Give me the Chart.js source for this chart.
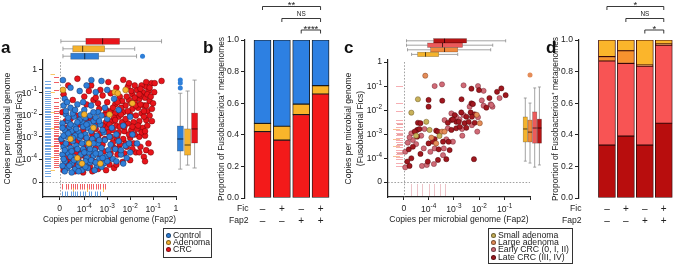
<!DOCTYPE html>
<html><head><meta charset="utf-8">
<script src="https://cdn.jsdelivr.net/npm/chart.js@4.4.1/dist/chart.umd.min.js"></script>
<style>
html,body{margin:0;padding:0;background:#fff}
body{width:675px;height:266px;position:relative;overflow:hidden;font-family:"Liberation Sans",Arial,Helvetica,sans-serif;color:#222}
canvas{position:absolute;left:0;top:0}
.pl{position:absolute;font-weight:bold;font-size:17px;line-height:17px;color:#111}
.leg{position:absolute;border:1.3px solid #333;font-size:8.7px;line-height:7.2px;padding:3px 2px 0 2px;box-sizing:border-box;white-space:nowrap;color:#222}
.leg div{height:7.2px}
.leg i{display:inline-block;width:5px;height:5px;border-radius:50%;margin-right:2px;vertical-align:0px;box-sizing:border-box;border:0.6px solid rgba(0,0,0,.45)}
</style></head><body>
<canvas id="cA" width="675" height="266"></canvas>
<canvas id="cB" width="675" height="266"></canvas>
<canvas id="cC" width="675" height="266"></canvas>
<canvas id="cD" width="675" height="266"></canvas>
<div class="pl" style="left:1px;top:39px">a</div>
<div class="pl" style="left:203px;top:39px">b</div>
<div class="pl" style="left:344px;top:39px">c</div>
<div class="pl" style="left:546px;top:39px">d</div>
<div class="leg" style="left:163px;top:228px;width:49px;height:30px">
  <div><i style="background:#2f7fd8"></i>Control</div>
  <div><i style="background:#f5b22e"></i>Adenoma</div>
  <div><i style="background:#e8141b"></i>CRC</div>
</div>
<div class="leg" style="left:488px;top:228px;width:85px;height:36px">
  <div><i style="background:#c8b15a"></i>Small adenoma</div>
  <div><i style="background:#e48c58"></i>Large adenoma</div>
  <div><i style="background:#d06a76"></i>Early CRC (0, I, II)</div>
  <div><i style="background:#a0171f"></i>Late CRC (III, IV)</div>
</div>
<script>
// ---------------- DATA (log10 copies per microbial genome) ----------------
const logTickValues = [-4, -3, -2, -1, 0];
const logTickText = ['10^-4', '10^-3', '10^-2', '10^-1', '1'];
const zeroText = '0';

// Panel a scatter: [log10 Fap2, log10 Fics]
const aControl = [[-4.93,-0.46],[-3.69,-0.46],[-3.25,-0.5],[-4.6,-0.8],[-4.2,-0.95],[-3.9,-0.7],[-3.5,-1.0],[-4.85,-1.3],[-3.0,-0.9],[-2.7,-1.3],
[-4.9,-1.6],[-4.6,-1.7],[-4.3,-1.55],[-4.0,-1.8],[-3.7,-1.6],[-3.4,-1.9],[-3.1,-1.7],[-4.8,-2.0],[-4.45,-2.1],[-4.15,-2.0],
[-4.95,-2.4],[-4.7,-2.3],[-4.4,-2.5],[-4.1,-2.35],[-3.85,-2.6],[-3.6,-2.3],[-3.3,-2.45],[-3.0,-2.2],[-2.8,-2.6],[-4.85,-2.7],[-4.55,-2.75],[-4.25,-2.8],[-3.95,-2.9],[-3.7,-2.75],[-3.45,-2.95],[-3.15,-2.8],[-2.6,-2.9],
[-5.0,-3.1],[-4.75,-3.0],[-4.5,-3.2],[-4.2,-3.05],[-3.9,-3.25],[-3.65,-3.1],[-3.4,-3.3],[-3.1,-3.15],[-2.85,-3.35],[-2.5,-3.2],[-2.2,-3.4],[-4.9,-3.45],[-4.6,-3.5],[-4.35,-3.4],[-4.05,-3.55],[-3.8,-3.45],[-3.55,-3.6],[-3.25,-3.5],[-2.95,-3.6],[-2.65,-3.55],
[-4.95,-3.8],[-4.7,-3.75],[-4.45,-3.9],[-4.15,-3.8],[-3.9,-3.95],[-3.6,-3.85],[-3.35,-4.0],[-3.05,-3.9],[-2.75,-4.0],[-2.4,-3.8],[-2.0,-3.7],[-4.85,-4.1],[-4.55,-4.2],[-4.3,-4.05],[-4.0,-4.25],[-3.75,-4.15],[-3.45,-4.3],[-3.15,-4.2],[-4.75,-4.4],[-4.4,-4.45],[-4.1,-4.5],[-3.85,-4.4],[-3.55,-4.5],[-1.7,-3.3],[-1.9,-2.9],[-2.3,-2.5],[-2.0,-2.1],[-2.5,-1.8],
[-4.8,-1.85],[-4.5,-1.95],[-4.2,-2.25],[-3.95,-2.15],[-3.75,-2.05],[-3.5,-2.15],[-3.25,-2.05],[-4.65,-2.55],[-4.35,-2.65],[-4.05,-2.55],[-3.8,-2.4],[-3.55,-2.55],[-4.9,-2.95],[-4.4,-2.95],[-4.1,-3.3],[-3.8,-3.7],[-3.3,-3.75],[-4.6,-3.9],[-4.25,-4.3],[-3.95,-4.1],[-4.95,-4.3],[-4.7,-2.15],[-3.2,-2.7],[-2.9,-3.0],[-2.4,-3.6],[-2.6,-4.1],[-4.85,-3.6],[-3.0,-4.1],[-2.15,-3.95],
[-4.9,-4.0],[-4.65,-4.3],[-4.45,-4.05],[-4.2,-4.15],[-3.95,-4.35],[-3.7,-4.05],[-3.5,-4.15],[-3.25,-4.35],[-4.8,-3.3],[-4.55,-3.65],[-4.3,-3.55],[-4.0,-3.7],[-3.75,-3.55],[-3.5,-3.75],[-3.2,-3.95],[-2.9,-3.8],[-4.7,-2.85],[-4.5,-3.05],[-4.15,-2.95],[-3.9,-3.05],[-3.6,-3.3],[-3.35,-3.15],[-4.95,-2.6],[-4.6,-2.45],[-4.3,-2.35],[-3.9,-2.45],[-3.35,-2.3],[-4.75,-1.45],[-4.4,-1.8],[-4.05,-1.45],[-3.6,-1.9],[-4.85,-4.55],[-4.55,-4.6],[-4.25,-4.55],[-2.3,-4.2],[-2.05,-3.3]];
const aAdenoma = [[-4.93,-0.9],[-2.67,-1.0],[-2.54,-1.05],[-4.1,-4.2],[-4.3,-3.95],[-3.8,-3.3],[-2.2,-0.9],[-3.6,-2.6],[-4.6,-3.1],[-2.9,-2.0],[-1.9,-1.5],[-3.3,-4.2],[-4.0,-2.0]];
const aCRC = [[-1.07,-0.6],[-0.93,-0.6],[-0.63,-0.5],[-1.3,-0.75],[-1.5,-0.7],[-1.2,-0.95],[-1.45,-1.0],[-1.7,-0.9],[-1.9,-1.1],[-1.35,-1.25],[-1.6,-1.3],[-1.15,-1.4],[-1.8,-1.45],[-2.05,-1.35],[-1.4,-1.6],[-1.65,-1.7],[-1.9,-1.75],[-2.2,-1.6],[-1.25,-1.85],[-1.5,-1.95],[-1.75,-2.05],[-2.0,-2.0],[-2.3,-1.9],[-2.5,-2.1],[-1.3,-2.25],[-1.6,-2.3],[-1.85,-2.35],[-2.1,-2.4],[-2.35,-2.35],[-2.6,-2.5],[-2.8,-2.3],[-1.45,-2.6],[-1.7,-2.65],[-1.95,-2.7],[-2.25,-2.75],[-2.5,-2.8],[-2.75,-2.7],[-3.0,-2.6],[-1.35,-2.95],[-1.6,-3.0],[-2.0,-3.05],[-2.3,-3.1],[-2.6,-3.05],[-2.85,-3.0],[-1.2,-3.3],[-1.55,-3.45],[-1.85,-3.3],[-2.15,-3.45],[-2.45,-3.35],[-2.7,-3.5],[-1.4,-3.9],[-1.75,-3.7],[-2.0,-4.05],[-2.33,-4.13],[-2.55,-3.8],[-1.3,-3.6],
[-4.3,-0.4],[-3.7,-0.7],[-3.3,-0.9],[-2.95,-0.55],[-2.6,-0.8],[-2.3,-0.45],[-2.1,-0.75],[-4.0,-1.2],[-3.6,-1.35],[-3.2,-1.15],[-2.85,-1.05],[-2.45,-1.2],[-4.5,-1.35],[-3.9,-1.55],[-3.4,-1.5],[-3.0,-1.45],[-2.65,-1.55],[-2.35,-1.4],
[-4.95,-1.9],[-4.6,-2.2],[-4.2,-2.45],[-3.85,-2.25],[-3.45,-2.4],[-3.05,-2.35],[-2.85,-1.85],[-3.35,-1.75],[-4.75,-2.6],[-4.45,-2.85],[-4.05,-2.7],[-3.65,-2.9],[-3.3,-2.85],[-2.95,-2.8],[-4.95,-3.25],[-4.65,-3.35],[-4.3,-3.2],[-3.95,-3.4],[-3.55,-3.25],[-3.2,-3.35],[-2.75,-3.25],[-4.8,-3.7],[-4.5,-3.6],[-4.2,-3.65],[-3.85,-3.6],[-3.5,-3.5],[-3.15,-3.65],[-2.85,-3.75],[-4.6,-4.05],[-4.25,-3.95],[-3.9,-4.05],[-3.6,-4.1],[-3.25,-4.05],[-2.9,-4.25],[-4.45,-4.3],[-4.1,-4.4],[-3.75,-4.35],[-3.4,-4.45],[-3.05,-4.5],[-2.7,-4.4],[-1.35,-4.1],[-1.1,-3.7],[-2.25,-3.75],[-4.9,-4.5],
[-1.25,-1.1],[-1.55,-1.15],[-1.8,-1.25],[-2.1,-1.85],[-1.4,-2.1],[-1.65,-2.5],[-1.9,-2.55],[-2.2,-2.2],[-2.45,-2.55],[-1.15,-2.05],[-1.05,-1.75],[-1.95,-0.95],[-2.15,-1.2],[-2.4,-1.7],[-2.65,-1.95],[-2.7,-2.15],[-3.1,-2.0],[-1.55,-0.85],[-1.1,-1.2],[-1.75,-1.6],[-2.55,-2.95],[-2.05,-2.9],[-1.5,-2.8],[-1.25,-2.5],
[-3.7,-2.2],[-3.5,-2.65],[-3.2,-2.5],[-2.9,-2.45],[-2.65,-2.25],[-4.35,-2.05],[-4.8,-2.3],[-4.0,-3.0],[-3.75,-3.15],[-3.4,-3.05],[-3.1,-3.1],[-2.5,-3.55],[-2.2,-3.3],[-1.9,-3.55],[-1.6,-3.7],[-4.7,-3.9],[-4.35,-3.75],[-4.0,-3.85],[-3.65,-3.85],[-3.3,-3.9],[-2.95,-4.0],[-2.6,-4.25],[-4.75,-4.25],[-4.4,-4.55],[-4.05,-4.6],[-3.65,-4.55],[-3.3,-4.25],[-1.3,-0.55],[-1.8,-0.7],[-2.05,-0.6],[-1.6,-1.1],[-1.95,-1.5],[-1.3,-1.6],[-1.55,-1.55],[-1.05,-2.3],[-1.35,-2.75],[-1.8,-2.9],[-2.25,-2.55],[-2.4,-2.0],[-2.55,-1.45],[-2.75,-1.7],[-3.05,-1.8],[-3.5,-1.25],[-3.8,-0.95],[-4.7,-0.7],[-4.9,-1.1],[-1.15,-0.8],[-0.95,-1.0],[-1.0,-1.5],[-1.4,-1.85]];
// rugs: samples with zero Fap2 (their Fics value) / zero Fics (their Fap2 value)
const aRugFicsControl = [-0.48,-0.62,-0.75,-0.83,-0.97,-1.05,-1.14,-1.22,-1.33,-1.41,-1.5,-1.58,-1.66,-1.75,-1.83,-1.9,-1.98,-2.06,-2.13,-2.22,-2.29,-2.37,-2.45,-2.52,-2.6,-2.66,-2.74,-2.81,-2.88,-2.95,-3.02,-3.09,-3.16,-3.22,-3.3,-3.37,-3.43,-3.5,-3.57,-3.64,-3.71,-3.78,-3.86,-3.93,-4.0,-4.08,-4.16,-4.25,-4.33,-4.42,-4.52,-4.63,-4.75];
const aRugFicsAdenoma = [-0.2,-1.0,-1.9,-2.6,-3.4,-3.9,-4.5];
const aRugFicsCRC = [-0.3,-0.55,-0.9,-1.25,-1.45,-1.6,-1.72,-1.85,-1.95,-2.05,-2.15,-2.25,-2.33,-2.42,-2.5,-2.58,-2.66,-2.74,-2.82,-2.9,-2.97,-3.05,-3.12,-3.2,-3.27,-3.35,-3.42,-3.5,-3.58,-3.66,-3.74,-3.82,-3.9,-3.98,-4.07,-4.16,-4.25,-4.36];
const aRugFap2Control = [-4.95,-4.85,-4.75,-4.6,-4.5,-4.4,-4.3,-4.2,-4.05,-3.95,-3.8,-3.7,-3.55,-3.45,-3.3];
const aRugFap2Adenoma = [-4.5,-3.9,-3.2];
const aRugFap2CRC = [-4.95,-4.8,-4.7,-4.6,-4.5,-4.4,-4.3,-4.2,-4.1,-4.0,-3.9,-3.8,-3.7,-3.6,-3.5,-3.4,-3.3,-3.2,-3.1];
// boxplots [min, q1, median, q3, max]
const aFap2BoxCRC = [-5.02,-3.93,-3.2,-2.46,-0.63];
const aFap2BoxAdenoma = [-4.93,-4.5,-4.07,-3.11,-1.8];
const aFap2BoxControl = [-4.93,-4.59,-3.98,-3.37,-1.72];
const aFap2OutControl = [-1.46];
const aFicsBoxControl = [-4.45,-3.64,-3.1,-2.52,-1.05];
const aFicsBoxAdenoma = [-4.27,-3.82,-3.37,-2.65,-0.95];
const aFicsBoxCRC = [-4.4,-3.28,-2.65,-1.94,-0.46];
const aFicsOutControl = [-0.46,-0.59,-0.82];

// Panel b
const combos = ['Fic−/Fap2−','Fic+/Fap2−','Fic−/Fap2+','Fic+/Fap2+'];
const ficSign = ['–','+','–','+'];
const fap2Sign = ['–','–','+','+'];
const bCRC = [0.42, 0.366, 0.528, 0.658];
const bAdenoma = [0.052, 0.088, 0.066, 0.053];
const bControl = [0.528, 0.546, 0.406, 0.289];
const bSig = ['**','NS','****'];
const sigPairs = [[0,3],[1,3],[2,3]];

// Panel c scatter
const cSmall = [[-4.42,-1.55],[-4.68,-2.11],[-4.09,-2.49],[-3.96,-2.83],[-3.57,-3.08],[-4.49,-3.07]];
const cLarge = [[-4.13,-0.57],[-3.47,-2.9],[-3.89,-3.15],[-3.7,-3.39],[-3.37,-2.9],[-1.98,-2.55],[-2.1,-2.2]];
const cEarly = [[-3.76,-1.0],[-3.47,-0.93],[-2.62,-0.97],[-2.05,-1.0],[-1.83,-1.2],[-2.38,-1.86],[-1.83,-1.82],[-1.55,-1.76],[-1.48,-1.86],[-3.1,-2.14],[-2.62,-2.21],[-2.05,-2.3],[-4.16,-2.79],[-3.37,-2.42],[-2.78,-2.39],[-4.92,-4.39],[-4.92,-3.74],[-4.49,-3.42],[-4.82,-3.36],[-4.62,-3.25],[-4.29,-3.07],[-4.26,-4.33],[-4.07,-4.29],[-4.19,-3.6],[-3.76,-3.6],[-3.93,-3.74],[-3.79,-4.25],[-3.3,-3.22],[-3.04,-3.32],[-3.4,-3.6],[-3.43,-3.88],[-3.24,-2.76],[-2.68,-2.79],[-2.67,-3.07],[-2.29,-2.63],[-2.08,-2.9],[-2.91,-2.28],[-4.68,-2.97],[-4.75,-3.14],[-1.2,-1.5],[-1.9,-1.6],[-1.52,-1.79]];
const cLate = [[-2.01,-1.17],[-2.31,-1.11],[-1.3,-1.24],[-1.13,-1.1],[-0.96,-1.38],[-4.0,-1.58],[-4.0,-1.86],[-3.46,-1.61],[-2.31,-1.72],[-2.25,-1.75],[-1.72,-1.9],[-2.97,-2.21],[-2.71,-2.1],[-2.51,-2.28],[-2.34,-2.1],[-2.18,-2.18],[-2.29,-2.28],[-4.42,-2.53],[-4.32,-2.55],[-3.24,-2.53],[-3.1,-2.42],[-2.91,-2.49],[-4.45,-2.83],[-3.7,-2.86],[-2.21,-4.05],[-4.75,-4.33],[-4.84,-4.15],[-4.68,-4.01],[-4.78,-3.64],[-4.62,-3.53],[-4.45,-3.11],[-4.32,-3.83],[-4.03,-4.15],[-4.0,-3.39],[-3.76,-3.21],[-3.83,-3.32],[-3.6,-3.64],[-3.63,-4.08],[-3.43,-3.32],[-3.21,-3.32],[-3.17,-3.67],[-3.3,-4.05],[-3.63,-2.9],[-3.1,-2.83],[-2.91,-2.76],[-2.77,-2.7],[-2.58,-2.55],[-2.42,-2.49],[-2.18,-2.53],[-2.51,-2.74],[-3.04,-2.39],[-2.81,-2.49],[-4.36,-2.79],[-4.55,-2.9],[-1.6,-1.5],[-2.7,-1.55]];
const cRugFicsEarly = [-1.0,-1.7,-2.05,-2.4,-2.55,-2.7,-2.85,-2.95,-3.05,-3.15,-3.25,-3.35,-3.45,-3.55,-3.65,-3.75,-3.85,-3.95,-4.05,-4.2,-4.35];
const cRugFicsLarge = [-2.8,-3.2,-3.5,-3.9];
const cRugFicsLate = [-2.6,-3.0,-3.4,-3.8];
const cRugFap2 = [-4.7,-4.45,-4.25,-4.0,-3.8,-3.55,-3.35];
const cFap2BoxLate = [-4.87,-3.8,-3.37,-2.5,-0.96];
const cFap2BoxEarly = [-4.87,-4.04,-3.45,-2.66,-1.47];
const cFap2BoxLarge = [-4.83,-3.92,-3.37,-2.85,-1.55];
const cFap2BoxSmall = [-4.67,-4.43,-4.12,-3.6,-2.85];
const cFicsBoxSmall = [-4.13,-3.33,-2.79,-2.29,-1.5];
const cFicsBoxLarge = [-4.21,-3.33,-2.92,-2.42,-1.71];
const cFicsOutLarge = [-0.54];
const cFicsBoxEarly = [-4.38,-3.38,-2.75,-2.08,-1.08];
const cFicsBoxLate = [-4.29,-3.38,-2.75,-2.38,-1.04];

// Panel d
const dLate = [0.335, 0.392, 0.335, 0.473];
const dEarly = [0.532, 0.46, 0.50, 0.495];
const dLarge = [0.028, 0.08, 0.007, 0.007];
const dSmall = [0.105, 0.068, 0.158, 0.025];
const dSig = ['*','NS','*'];

// ---------------- helpers ----------------
const FONT = '"Liberation Sans", Arial, Helvetica, sans-serif';
Chart.defaults.font.family = FONT;
Chart.defaults.color = '#222';
const INK = '#222';

function seg(ctx,x1,y1,x2,y2){ctx.beginPath();ctx.moveTo(x1,y1);ctx.lineTo(x2,y2);ctx.stroke();}

function tickLabel(ctx, s, x, y, align){
  const m = s.match(/^10\^(.+)$/);
  ctx.fillStyle = INK; ctx.textBaseline = 'middle';
  const base = '8.6px ' + FONT, sup = '6.4px ' + FONT;
  if(!m){ ctx.font = base; ctx.textAlign = align; ctx.fillText(s, x, y); return; }
  ctx.font = base; const w1 = ctx.measureText('10').width;
  ctx.font = sup; const w2 = ctx.measureText(m[1]).width;
  const x0 = align === 'right' ? x - w1 - w2 : align === 'center' ? x - (w1 + w2) / 2 : x;
  ctx.textAlign = 'left';
  ctx.font = base; ctx.fillText('10', x0, y + 1);
  ctx.font = sup; ctx.fillText(m[1], x0 + w1, y - 2.6);
}

function drawLogLabels(chart, zx, zy, showOne){
  const {ctx, scales:{x, y}, chartArea:ca} = chart;
  ctx.save();
  const xs = [zeroText].concat(logTickText), xv = [zx].concat(logTickValues);
  xs.forEach((t,i)=>{ if(!showOne && t==='1') return; tickLabel(ctx, t, x.getPixelForValue(xv[i]), ca.bottom + 12, 'center'); });
  const yv = [zy].concat(logTickValues);
  xs.forEach((t,i)=>{ tickLabel(ctx, t, ca.left - 6, y.getPixelForValue(yv[i]), 'right'); });
  ctx.restore();
}

function rugH(ctx, scale, vals, x1, x2, color){
  ctx.strokeStyle = color; ctx.lineWidth = 0.9;
  vals.forEach(v=>{ const p = Math.round(scale.getPixelForValue(v)) + 0.5; seg(ctx, x1, p, x2, p); });
}
function rugV(ctx, scale, vals, y1, y2, color){
  ctx.strokeStyle = color; ctx.lineWidth = 0.9;
  vals.forEach(v=>{ const p = Math.round(scale.getPixelForValue(v)) + 0.5; seg(ctx, p, y1, p, y2); });
}

function box(ctx, scale, st, c, half, fill, horiz, outs, outColor){
  const P = v => scale.getPixelForValue(v);
  ctx.save();
  ctx.strokeStyle = '#8c8c8c'; ctx.lineWidth = 0.8;
  const cap = half * 0.7;
  if(horiz){
    seg(ctx, P(st[0]), c, P(st[1]), c); seg(ctx, P(st[3]), c, P(st[4]), c);
    seg(ctx, P(st[0]), c-cap, P(st[0]), c+cap); seg(ctx, P(st[4]), c-cap, P(st[4]), c+cap);
    ctx.fillStyle = fill; ctx.fillRect(P(st[1]), c-half, P(st[3])-P(st[1]), 2*half);
    ctx.strokeStyle = 'rgba(0,0,0,0.35)'; ctx.lineWidth = 0.6; ctx.strokeRect(P(st[1]), c-half, P(st[3])-P(st[1]), 2*half);
    ctx.strokeStyle = 'rgba(0,0,0,0.75)'; ctx.lineWidth = 0.9; seg(ctx, P(st[2]), c-half, P(st[2]), c+half);
    (outs||[]).forEach(v=>{ ctx.beginPath(); ctx.arc(P(v), c, 2.5, 0, 7); ctx.fillStyle = outColor; ctx.fill(); });
  } else {
    seg(ctx, c, P(st[0]), c, P(st[1])); seg(ctx, c, P(st[3]), c, P(st[4]));
    seg(ctx, c-cap, P(st[0]), c+cap, P(st[0])); seg(ctx, c-cap, P(st[4]), c+cap, P(st[4]));
    ctx.fillStyle = fill; ctx.fillRect(c-half, P(st[3]), 2*half, P(st[1])-P(st[3]));
    ctx.strokeStyle = 'rgba(0,0,0,0.35)'; ctx.lineWidth = 0.6; ctx.strokeRect(c-half, P(st[3]), 2*half, P(st[1])-P(st[3]));
    ctx.strokeStyle = 'rgba(0,0,0,0.75)'; ctx.lineWidth = 0.9; seg(ctx, c-half, P(st[2]), c+half, P(st[2]));
    (outs||[]).forEach(v=>{ ctx.beginPath(); ctx.arc(c, P(v), 2.5, 0, 7); ctx.fillStyle = outColor; ctx.fill(); });
  }
  ctx.restore();
}

function zeroLines(chart, zx, zy){
  const {ctx, scales:{x,y}, chartArea:ca} = chart;
  ctx.save(); ctx.strokeStyle = '#8a8a8a'; ctx.lineWidth = 0.8; ctx.setLineDash([1.6,1.6]);
  const px = Math.round(x.getPixelForValue(zx)) + 0.5, py = Math.round(y.getPixelForValue(zy)) + 0.5;
  seg(ctx, px, ca.top + 2, px, ca.bottom); seg(ctx, ca.left, py, ca.right, py);
  ctx.restore();
}

function pts(a){ return a.map(p=>({x:p[0], y:p[1]})); }

function logScales(xmin, xmax, ymin, ymax, zx, zy, yW, yTitle, yTitlePad){
  return {
    x: {type:'linear', min:xmin, max:xmax,
        afterBuildTicks: s => { s.ticks = [zx].concat(logTickValues).filter(v=>v<=xmax+1e-9).map(v=>({value:v})); },
        ticks:{display:false},
        grid:{drawOnChartArea:false, tickLength:3, color:INK, lineWidth:1},
        border:{color:INK, width:1.2},
        title:{display:true, text:'Copies per microbial genome (Fap2)', font:{size:8.6}, color:INK, padding:{top:0,bottom:2.2}},
        afterFit: s => { s.height = 30; }},
    y: {type:'linear', min:ymin, max:ymax,
        afterBuildTicks: s => { s.ticks = [zy].concat(logTickValues).map(v=>({value:v})); },
        ticks:{display:false},
        grid:{drawOnChartArea:false, tickLength:4, color:INK, lineWidth:1},
        border:{color:INK, width:1.2},
        title:{display:true, text:yTitle, font:{size:8.6, lineHeight:1.38}, color:INK, padding:{top:yTitlePad, bottom:0}},
        afterFit: s => { s.width = yW; }}
  };
}

const common = {responsive:false, animation:false, devicePixelRatio:1, events:[],
  plugins:{legend:{display:false}, tooltip:{enabled:false}}};

// ---------------- Panel a ----------------
const A_ZX = -5.07, A_ZY = -5.03;
const colA = {control:'#2f7fd8', adenoma:'#f5b22e', crc:'#e8141b'};
new Chart(document.getElementById('cA'), {
  type:'scatter',
  data:{datasets:[
    {label:'Adenoma', data:pts(aAdenoma), order:0, backgroundColor:colA.adenoma, borderColor:'rgba(110,70,0,0.7)'},
    {label:'Control', data:pts(aControl), order:1, backgroundColor:colA.control, borderColor:'rgba(15,40,90,0.75)'},
    {label:'CRC', data:pts(aCRC), order:2, backgroundColor:colA.crc, borderColor:'rgba(100,0,0,0.75)'}
  ]},
  options:Object.assign({}, common, {
    layout:{padding:{left:0, top:60, right:499, bottom:39}},
    elements:{point:{radius:2.9, borderWidth:0.6}},
    scales: logScales(-5.8, 0, -5.7, 0.44, A_ZX, A_ZY, 43, ['Copies per microbial genome','(Fusobacterial Fics)'], 2.1)
  }),
  plugins:[{id:'pa',
    beforeDatasetsDraw(chart){
      const {ctx, scales:{x,y}} = chart;
      zeroLines(chart, A_ZX, A_ZY);
      ctx.save();
      rugH(ctx, y, aRugFicsControl, 45, 51, 'rgba(47,127,216,0.75)');
      rugH(ctx, y, aRugFicsAdenoma, 50.5, 55, 'rgba(245,178,46,0.8)');
      rugH(ctx, y, aRugFicsCRC, 54, 59, 'rgba(232,20,27,0.75)');
      rugV(ctx, x, aRugFap2CRC, 184, 189.5, 'rgba(232,20,27,0.75)');
      rugV(ctx, x, aRugFap2Adenoma, 188, 192, 'rgba(245,178,46,0.85)');
      rugV(ctx, x, aRugFap2Control, 191.5, 196.5, 'rgba(47,127,216,0.8)');
      ctx.restore();
    },
    afterDraw(chart){
      const {ctx, scales:{x,y}} = chart;
      box(ctx, x, aFap2BoxCRC, 41.3, 3, colA.crc, true);
      box(ctx, x, aFap2BoxAdenoma, 48.8, 3, colA.adenoma, true);
      box(ctx, x, aFap2BoxControl, 56.2, 3, colA.control, true, aFap2OutControl, colA.control);
      box(ctx, y, aFicsBoxControl, 180.3, 3, colA.control, false, aFicsOutControl, colA.control);
      box(ctx, y, aFicsBoxAdenoma, 187.6, 3, colA.adenoma, false);
      box(ctx, y, aFicsBoxCRC, 194.6, 3, colA.crc, false);
      drawLogLabels(chart, A_ZX, A_ZY, true);
    }}]
});

// ---------------- stacked bar helper ----------------
function barChart(id, sets, xmin, xmax, padLeft, padRight, titlePad, sigs, borderCol, labelRight){
  return new Chart(document.getElementById(id), {
    type:'scatter',
    data:{datasets: sets.map(s=>({type:'bar', label:s.label, data:s.vals.map((v,i)=>({x:i+1, y:v})), backgroundColor:s.color,
       borderColor:borderCol, borderWidth:0.9, borderSkipped:false, stack:'s', barThickness:17}))},
    options:Object.assign({}, common, {
      layout:{padding:{left:padLeft, top:40, right:padRight, bottom:38}, autoPadding:false},
      scales:{
        x:{type:'linear', min:xmin, max:xmax, offset:false,
           ticks:{display:false}, grid:{display:false}, border:{display:false},
           afterFit: s => { s.height = 30; }},
        y:{type:'linear', min:0, max:1, stacked:true, offset:false,
           afterBuildTicks: s => { s.ticks = [0,0.2,0.4,0.6,0.8,1].map(v=>({value:v})); },
           ticks:{callback:v=>v.toFixed(1), font:{size:8.6}, color:INK, padding:2},
           grid:{drawOnChartArea:false, tickLength:4, color:INK},
           border:{color:INK, width:1.2},
           title:{display:true, text:'Proportion of Fusobacteriota⁺ metagenomes', font:{size:8.4}, color:INK, padding:{top:titlePad,bottom:0}},
           afterFit: s => { s.width = 30; }}
      }
    }),
    plugins:[{id:'pb'+id, afterDraw(chart){
      const {ctx, scales:{x}} = chart;
      const P = i => x.getPixelForValue(i+1);
      ctx.save();
      ctx.fillStyle = INK; ctx.textBaseline = 'middle';
      ctx.font = '8.6px ' + FONT; ctx.textAlign = 'right';
      ctx.fillText('Fic', labelRight, 209); ctx.fillText('Fap2', labelRight, 221);
      ctx.font = '10px ' + FONT; ctx.textAlign = 'center';
      ficSign.forEach((s,i)=>ctx.fillText(s, P(i), 209));
      fap2Sign.forEach((s,i)=>ctx.fillText(s, P(i), 221));
      ctx.strokeStyle = INK; ctx.lineWidth = 0.9;
      const levels = [6, 18, 29.5];
      sigPairs.forEach((pr,k)=>{
        const x1 = P(pr[0]), x2 = P(pr[1]), yy = levels[k] + 0.5;
        ctx.beginPath(); ctx.moveTo(x1, yy+3.5); ctx.lineTo(x1, yy); ctx.lineTo(x2, yy); ctx.lineTo(x2, yy+3.5); ctx.stroke();
        const t = sigs[k];
        ctx.textBaseline = 'alphabetic';
        if(t === 'NS'){ ctx.font = '6.4px ' + FONT; ctx.fillText(t, (x1+x2)/2, yy - 2.2); }
        else { ctx.font = '9.5px ' + FONT; ctx.fillText(t, (x1+x2)/2, yy + 1.6); }
      });
      ctx.restore();
    }}]
  });
}

barChart('cB', [
  {label:'CRC', vals:bCRC, color:'#f31a1a'},
  {label:'Adenoma', vals:bAdenoma, color:'#f9b52a'},
  {label:'Control', vals:bControl, color:'#2d80e2'}
], 0.095, 4.54, 215, 344, 1.9, bSig, '#1a1a1a', 248.5);

// ---------------- Panel c ----------------
const C_ZX = -4.97, C_ZY = -5.0;
const colC = {small:'#c8b15a', large:'#e48c58', early:'#d06a76', late:'#a0171f'};
const boxC = {small:'#f4b32c', large:'#f08a3c', early:'#ec5a5a', late:'#b41414'};
new Chart(document.getElementById('cC'), {
  type:'scatter',
  data:{datasets:[
    {label:'Small adenoma', data:pts(cSmall), order:0, backgroundColor:colC.small, borderColor:'rgba(90,70,20,0.7)'},
    {label:'Large adenoma', data:pts(cLarge), order:1, backgroundColor:colC.large, borderColor:'rgba(110,50,20,0.7)'},
    {label:'Early CRC (0, I, II)', data:pts(cEarly), order:3, backgroundColor:colC.early, borderColor:'rgba(100,30,40,0.7)'},
    {label:'Late CRC (III, IV)', data:pts(cLate), order:2, backgroundColor:colC.late, borderColor:'rgba(60,0,0,0.7)'}
  ]},
  options:Object.assign({}, common, {
    layout:{padding:{left:340, top:60, right:145, bottom:39}},
    elements:{point:{radius:2.6, borderWidth:0.6}},
    scales: logScales(-5.6, 0, -5.625, 0.085, C_ZX, C_ZY, 48, ['Copies per microbial genome','(Fusobacterial Fics)'], 2.4)
  }),
  plugins:[{id:'pc',
    beforeDatasetsDraw(chart){
      const {ctx, scales:{x,y}} = chart;
      zeroLines(chart, C_ZX, C_ZY);
      ctx.save();
      rugH(ctx, y, cRugFicsEarly, 396, 403, 'rgba(236,90,100,0.55)');
      rugH(ctx, y, cRugFicsLarge, 393, 400, 'rgba(240,138,60,0.6)');
      rugH(ctx, y, cRugFicsLate, 397, 403, 'rgba(180,20,20,0.45)');
      rugV(ctx, x, cRugFap2, 184, 196, 'rgba(208,106,118,0.45)');
      ctx.restore();
    },
    afterDraw(chart){
      const {ctx, scales:{x,y}} = chart;
      box(ctx, x, cFap2BoxLate, 40.8, 2.2, boxC.late, true);
      box(ctx, x, cFap2BoxEarly, 45.2, 2.2, boxC.early, true);
      box(ctx, x, cFap2BoxLarge, 49.8, 2.2, boxC.large, true);
      box(ctx, x, cFap2BoxSmall, 54.4, 2.2, boxC.small, true);
      box(ctx, y, cFicsBoxSmall, 525.3, 2.1, boxC.small, false);
      box(ctx, y, cFicsBoxLarge, 530, 2.1, boxC.large, false, cFicsOutLarge, colC.large);
      box(ctx, y, cFicsBoxEarly, 534.7, 2.1, boxC.early, false);
      box(ctx, y, cFicsBoxLate, 539.4, 2.1, boxC.late, false);
      drawLogLabels(chart, C_ZX, C_ZY, false);
    }}]
});

// ---------------- Panel d ----------------
barChart('cD', [
  {label:'Late CRC (III, IV)', vals:dLate, color:'#b80d0d'},
  {label:'Early CRC (0, I, II)', vals:dEarly, color:'#f85454'},
  {label:'Large adenoma', vals:dLarge, color:'#f7922e'},
  {label:'Small adenoma', vals:dSmall, color:'#fbb52b'}
], -0.474, 4.54, 549, 1, 1.9, dSig, '#3a0808', 581.5);
</script>
</body></html>
